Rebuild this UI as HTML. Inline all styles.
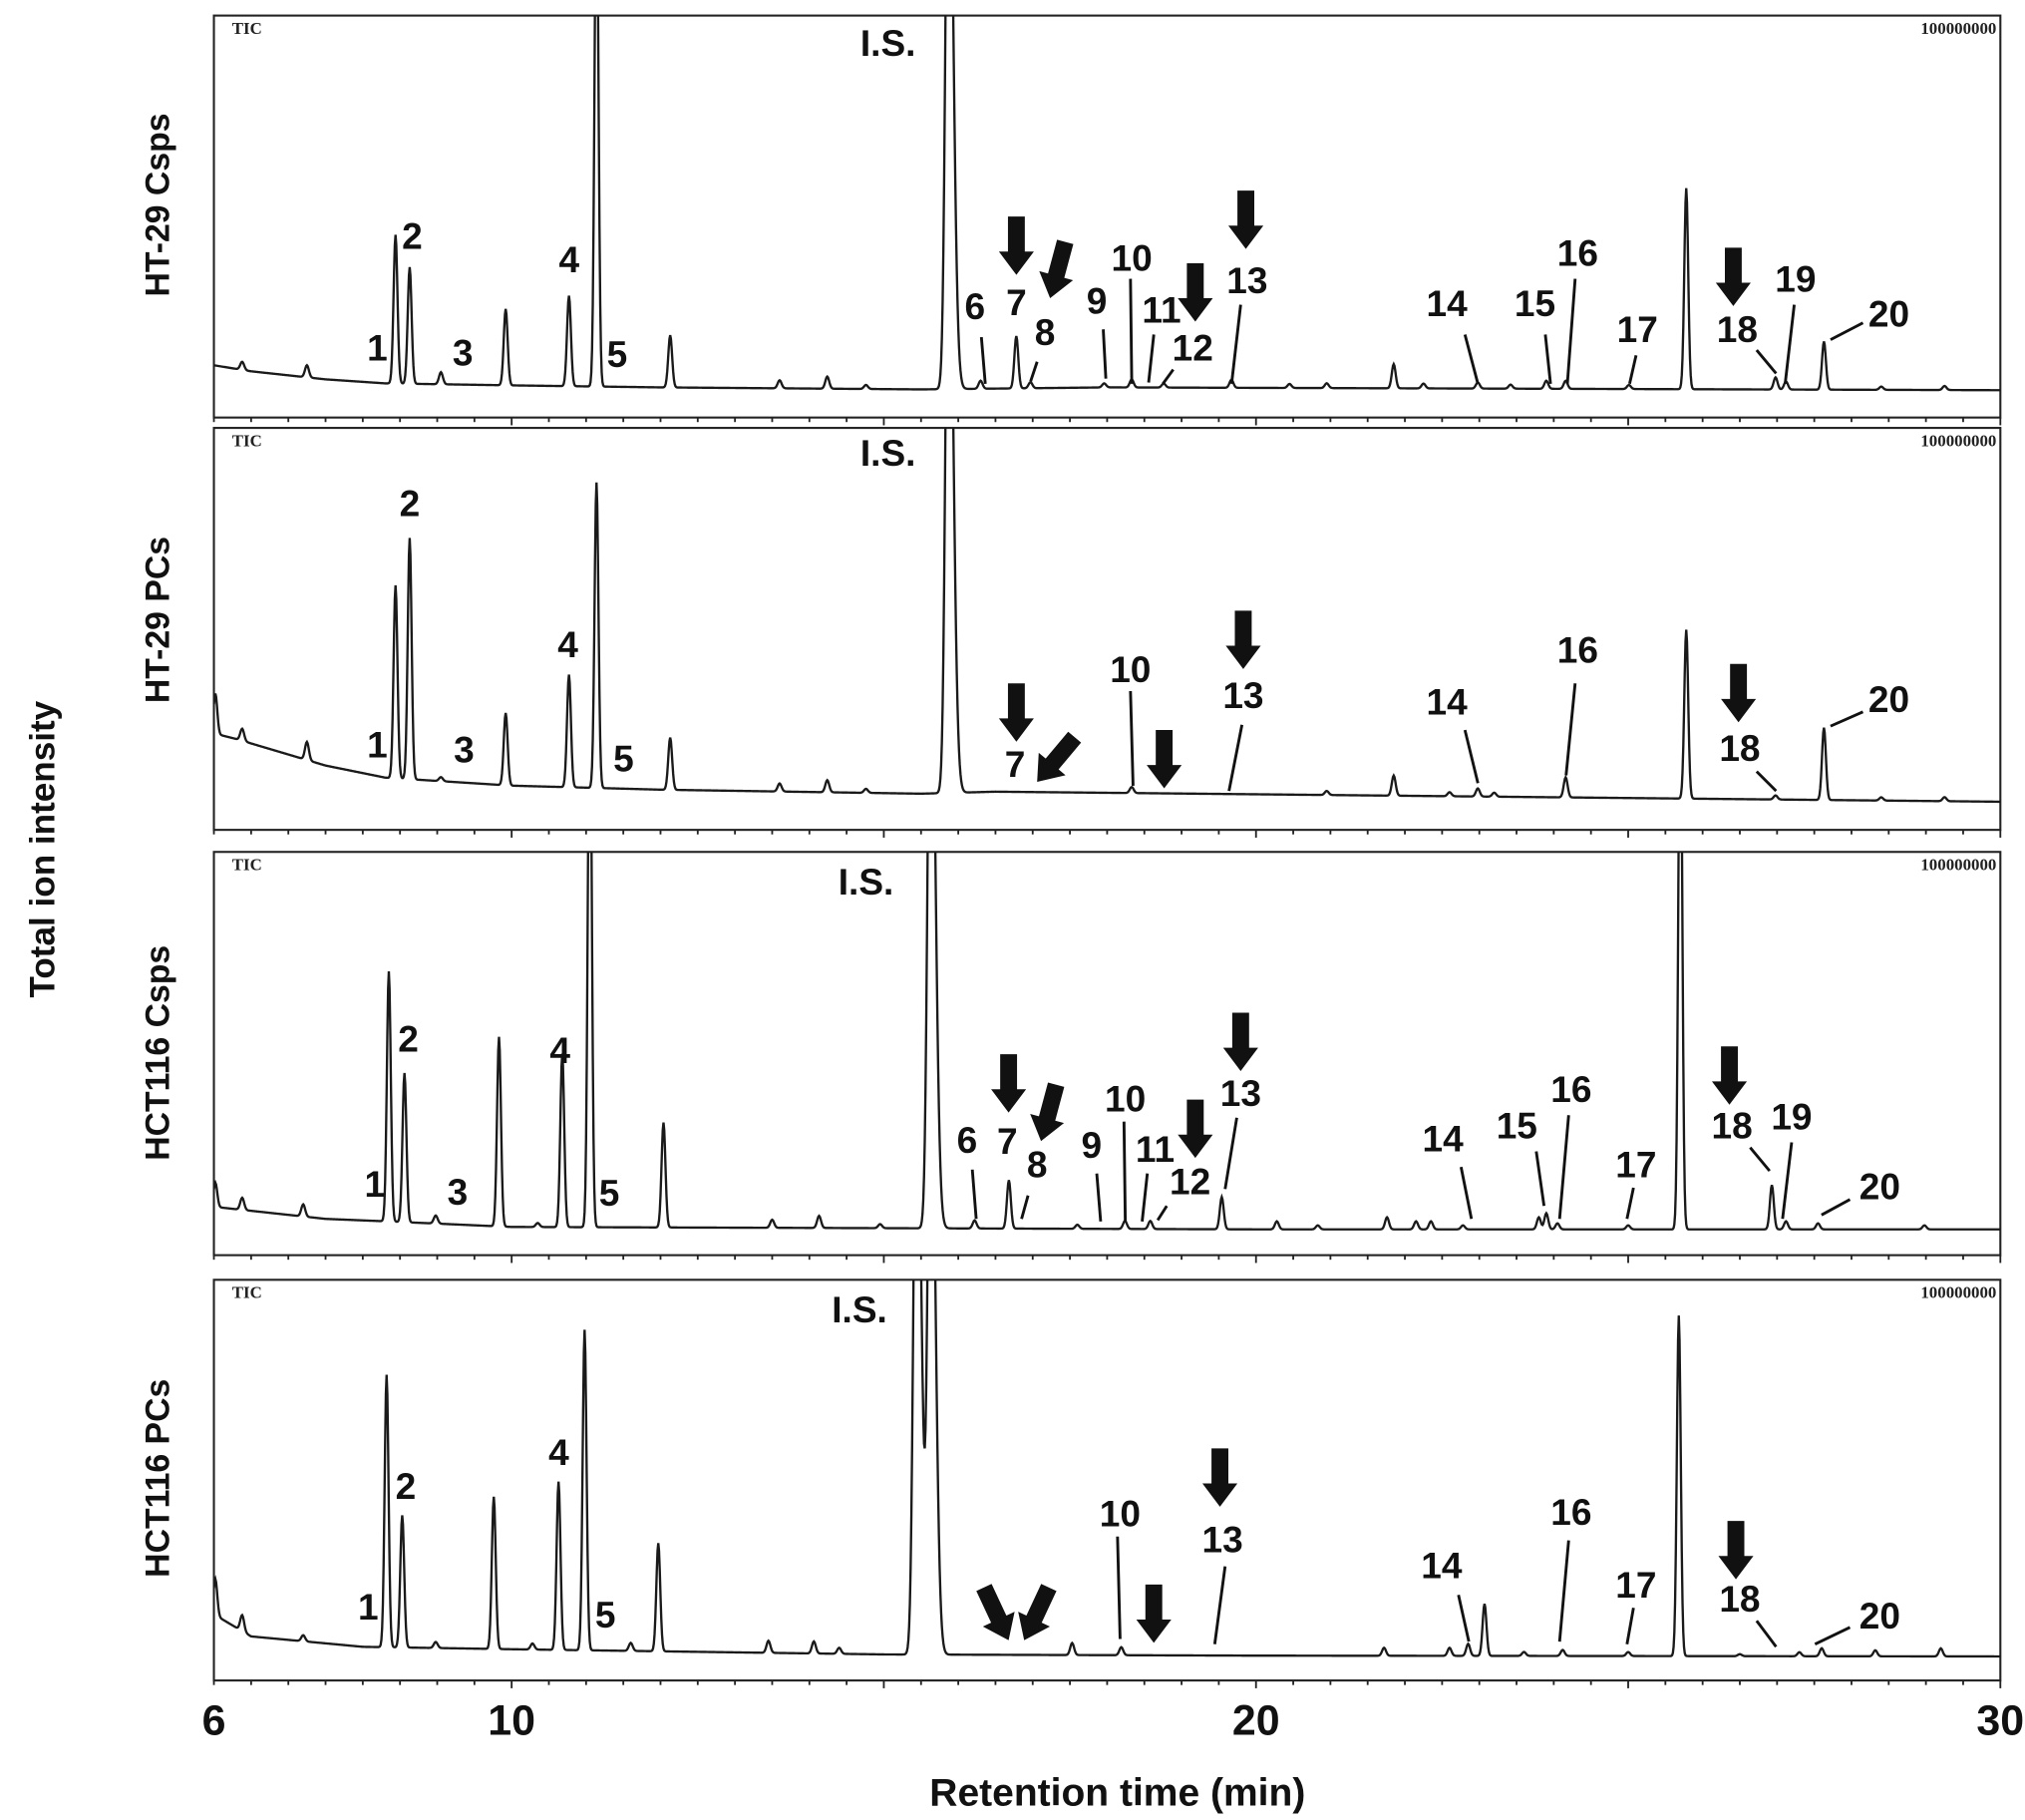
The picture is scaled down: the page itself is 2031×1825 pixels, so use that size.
<!DOCTYPE html>
<html><head><meta charset="utf-8">
<style>
html,body{margin:0;padding:0;background:#fff;}
svg{display:block;}
.lbl{font-family:"Liberation Sans",sans-serif;font-weight:bold;font-size:28.5px;fill:#111;text-anchor:middle;dominant-baseline:central;}
.tic{font-family:"Liberation Serif",serif;font-weight:bold;font-size:13px;fill:#222;}
.ax{font-family:"Liberation Sans",sans-serif;font-weight:bold;fill:#111;}
</style></head>
<body>
<svg id="chart" width="2031" height="1825" viewBox="0 0 1562 1403.6" preserveAspectRatio="none" xmlns="http://www.w3.org/2000/svg">
<g id="root"></g>
</svg>
<script>
// ---- data (retention times in min, heights as fraction of panel height above baseline) ----
const panelNames = ["HT-29 Csps","HT-29 PCs","HCT116 Csps","HCT116 PCs"];
const xTickLabels = [6,10,20,30];

const p1RT = [6.38,7.25,8.44,8.63,9.05,9.92,10.77,11.14,12.13,13.6,14.24,14.76,15.87,16.3,16.78,16.97,17.96,18.33,18.76,19.67,20.45,20.95,21.85,22.25,22.98,23.42,23.9,24.16,25.01,25.78,26.98,27.12,27.63,28.4,29.25];
const p1H  = [0.02,0.03,0.37,0.29,0.03,0.19,0.225,1.3,0.13,0.02,0.03,0.01,1.6,0.02,0.13,0.015,0.01,0.02,0.01,0.02,0.01,0.012,0.06,0.012,0.015,0.01,0.02,0.02,0.01,0.5,0.03,0.02,0.12,0.008,0.01];
const p1BaseRT = [6.0,6.5,7.5,8.3,10,12,15.5,18,30];
const p1BaseV  = [0.13,0.115,0.095,0.085,0.08,0.075,0.07,0.075,0.068];

const p2RT = [6.02,6.38,7.25,8.44,8.63,9.05,9.92,10.77,11.14,12.13,13.6,14.24,14.76,15.87,18.33,20.95,21.85,22.6,22.98,23.2,24.16,25.78,26.98,27.63,28.4,29.25];
const p2H  = [0.1,0.03,0.045,0.48,0.6,0.01,0.18,0.28,0.76,0.13,0.02,0.03,0.01,1.6,0.015,0.01,0.05,0.01,0.02,0.01,0.05,0.42,0.01,0.18,0.008,0.01];
const p2BaseRT = [6.0,6.3,7.5,8.3,10,12,15.5,16.5,30];
const p2BaseV  = [0.24,0.226,0.16,0.13,0.11,0.10,0.09,0.095,0.07];

const p3RT = [6.02,6.38,7.2,8.35,8.56,8.98,9.83,10.35,10.68,11.05,12.04,13.5,14.13,14.95,15.63,16.22,16.68,17.6,18.24,18.58,19.54,20.28,20.83,21.76,22.15,22.35,22.78,23.8,23.9,24.05,25.0,25.7,26.93,27.12,27.55,28.98];
const p3H  = [0.06,0.03,0.03,0.62,0.37,0.02,0.47,0.01,0.43,1.4,0.26,0.02,0.03,0.01,1.6,0.02,0.12,0.01,0.02,0.02,0.08,0.02,0.01,0.03,0.02,0.02,0.01,0.03,0.04,0.015,0.01,1.4,0.11,0.02,0.015,0.01];
const p3BaseRT = [6.0,7.5,8.3,10,20,30];
const p3BaseV  = [0.12,0.09,0.084,0.07,0.064,0.064];

const p4RT = [6.02,6.38,7.2,8.32,8.53,8.98,9.76,10.28,10.63,10.98,11.6,11.97,13.45,14.06,14.4,15.44,15.63,17.53,18.19,21.72,22.6,22.85,23.07,23.6,24.12,25.0,25.68,26.5,27.3,27.6,28.32,29.2];
const p4H  = [0.09,0.04,0.015,0.68,0.33,0.015,0.38,0.015,0.42,0.8,0.02,0.27,0.03,0.03,0.015,1.6,1.6,0.03,0.02,0.02,0.02,0.03,0.13,0.01,0.015,0.01,0.85,0.005,0.01,0.02,0.015,0.02];
const p4BaseRT = [6.0,6.5,8.0,10,15,20,30];
const p4BaseV  = [0.165,0.11,0.084,0.078,0.065,0.062,0.06];

// ---- layout ----
const L=165, R=1543;
const panels=[{top:12,bot:322,lx:122,ly:158},{top:330,bot:640,lx:122,ly:478},{top:657,bot:968,lx:122,ly:812},{top:987,bot:1296,lx:122,ly:1140}];
const series=[[p1RT,p1H,p1BaseRT,p1BaseV],[p2RT,p2H,p2BaseRT,p2BaseV],[p3RT,p3H,p3BaseRT,p3BaseV],[p4RT,p4H,p4BaseRT,p4BaseV]];
const xScale=t=>L+(t-6)/24*(R-L);

const labels=[
[["1",291,268],["2",318,182],["3",357,272],["4",439,200],["5",476,273],["I.S.",685,33],["6",752,236],["7",784,233],["8",806,256],["9",846,232],["10",873,199],["11",896,239],["12",920,268],["13",962,216],["14",1116,234],["15",1184,234],["16",1217,195],["17",1263,254],["18",1340,254],["19",1385,215],["20",1457,242]],
[["1",291,574],["2",316,388],["3",358,578],["4",438,497],["5",481,585],["I.S.",685,349],["7",783,589],["10",872,516],["13",959,536],["14",1116,541],["16",1217,501],["18",1342,577],["20",1457,539]],
[["1",289,913],["2",315,801],["3",353,919],["4",432,810],["5",470,920],["I.S.",668,680],["6",746,879],["7",777,880],["8",800,898],["9",842,883],["10",868,847],["11",891,886],["12",918,911],["13",957,843],["14",1113,878],["15",1170,868],["16",1212,840],["17",1262,898],["18",1336,868],["19",1382,861],["20",1450,915]],
[["1",284,1239],["2",313,1146],["4",431,1120],["5",467,1245],["I.S.",663,1010],["10",864,1167],["13",943,1187],["14",1112,1207],["16",1212,1166],["17",1262,1222],["18",1342,1233],["20",1450,1246]]
];
const leaders=[
[[757,260,760,296],[800,279,795,294],[851,254,853,292],[872,215,873,296],[890,258,886,295],[905,285,897,296],[957,235,950,296],[1130,258,1140,296],[1192,258,1196,296],[1215,215,1209,296],[1262,274,1257,296],[1355,270,1370,288],[1384,235,1377,296],[1437,249,1412,262]],
[[872,533,874,606],[958,559,948,610],[1130,563,1140,604],[1215,527,1208,598],[1355,595,1370,610],[1437,549,1412,560]],
[[750,902,753,940],[793,922,788,940],[846,905,849,942],[867,865,868,942],[885,905,881,942],[900,930,893,941],[954,862,945,917],[1127,900,1135,940],[1185,888,1191,930],[1210,860,1203,940],[1260,916,1255,940],[1350,885,1365,903],[1382,881,1375,940],[1427,925,1405,937]],
[[862,1185,864,1264],[945,1208,937,1268],[1125,1230,1133,1266],[1210,1188,1203,1266],[1260,1240,1255,1268],[1355,1250,1370,1270],[1427,1255,1400,1268]]
];
const arrows=[
[[784,212,0],[810,230,15],[922,248,0],[961,192,0],[1337,236,0]],
[[784,572,0],[800,603,40],[898,608,0],[959,516,0],[1341,557,0]],
[[778,858,0],[803,880,15],[922,893,0],[957,826,0],[1334,852,0]],
[[778,1265,-25],[790,1265,25],[890,1267,0],[941,1162,0],[1339,1218,0]]
];

const NS="http://www.w3.org/2000/svg";
const root=document.getElementById('root');
function mk(tag,attrs,parent){const e=document.createElementNS(NS,tag);for(const k in attrs)e.setAttribute(k,attrs[k]);(parent||root).appendChild(e);return e;}
function interp(xs,ys,t){if(t<=xs[0])return ys[0];for(let i=1;i<xs.length;i++){if(t<=xs[i]){const f=(t-xs[i-1])/(xs[i]-xs[i-1]);return ys[i-1]+f*(ys[i]-ys[i-1]);}}return ys[ys.length-1];}

panels.forEach((p,pi)=>{
  const g=mk('g',{});
  
  
  const cp=mk('clipPath',{id:'clip'+pi},g);
  mk('rect',{x:L,y:p.top,width:R-L,height:p.bot-p.top},cp);
  const frame=mk('rect',{x:L,y:p.top,width:R-L,height:p.bot-p.top,fill:'none',stroke:'#222','stroke-width':1.6},g);
  
  
  for(let t=6;t<=30.001;t+=0.5){
    const x=xScale(t);
    const tk=mk('line',{x1:x,y1:p.bot,x2:x,y2:p.bot+(Number.isInteger(t)&&t%5===0?6:3.5),stroke:'#222','stroke-width':1.4},g);
    
    
  }
  const [rt,h,bx,bv]=series[pi];
  const H=p.bot-p.top;
  let d='';
  for(let t=6.0;t<=30.0001;t+=0.01){
    let v=interp(bx,bv,t);
    for(let k=0;k<rt.length;k++){
      const isIS=h[k]>=1.5;
      let s=isIS?0.04:0.026;
      if(rt[k]<6.1) s=0.025;
      if(isIS && t>rt[k]) s=s*1.5;
      const z=(t-rt[k])/s;
      if(Math.abs(z)<8) v+=h[k]*Math.exp(-0.5*z*z);
    }
    const x=xScale(t), y=p.bot-v*H;
    d+=(d?'L':'M')+x.toFixed(2)+' '+y.toFixed(2);
  }
  const tr=mk('path',{d:d,fill:'none',stroke:'#1a1a1a','stroke-width':1.8,'clip-path':'url(#clip'+pi+')'},g);
  
  
  const t1=mk('text',{x:179,y:p.top+14,class:'tic'},g);t1.textContent='TIC';
  
  
  const t2=mk('text',{x:1540,y:p.top+14,class:'tic','text-anchor':'end'},g);t2.textContent='100000000';
  
  
  const pn=mk('text',{x:p.lx,y:p.ly,class:'ax','font-size':26,'text-anchor':'middle','dominant-baseline':'central',transform:'rotate(-90 '+p.lx+' '+p.ly+')'},g);
  pn.textContent=panelNames[pi];
  
  
  labels[pi].forEach(a=>{
    const tx=mk('text',{x:a[1],y:a[2],class:'lbl'},g);tx.textContent=a[0];
    
    
  });
  leaders[pi].forEach(l=>{
    const ln=mk('line',{x1:l[0],y1:l[1],x2:l[2],y2:l[3],stroke:'#111','stroke-width':2.2},g);
    
    
  });
  arrows[pi].forEach(a=>{
    const ar=mk('path',{d:'M-6.5 -45 L6.5 -45 L6.5 -18 L13.5 -18 L0 0 L-13.5 -18 L-6.5 -18 Z',fill:'#111',transform:'translate('+a[0]+' '+a[1]+') rotate('+a[2]+')'},g);
    
    
  });
});

xTickLabels.forEach(v=>{
  const tx=mk('text',{x:xScale(v),y:1327,class:'ax','font-size':33,'text-anchor':'middle','dominant-baseline':'central'});
  tx.textContent=String(v);
  
  
});
const xt=mk('text',{x:862,y:1383,class:'ax','font-size':30,'text-anchor':'middle','dominant-baseline':'central'});
xt.textContent='Retention time (min)';


const yt=mk('text',{x:33,y:655,class:'ax','font-size':27,'text-anchor':'middle','dominant-baseline':'central',transform:'rotate(-90 33 655)'});
yt.textContent='Total ion intensity';


</script>
</body></html>
